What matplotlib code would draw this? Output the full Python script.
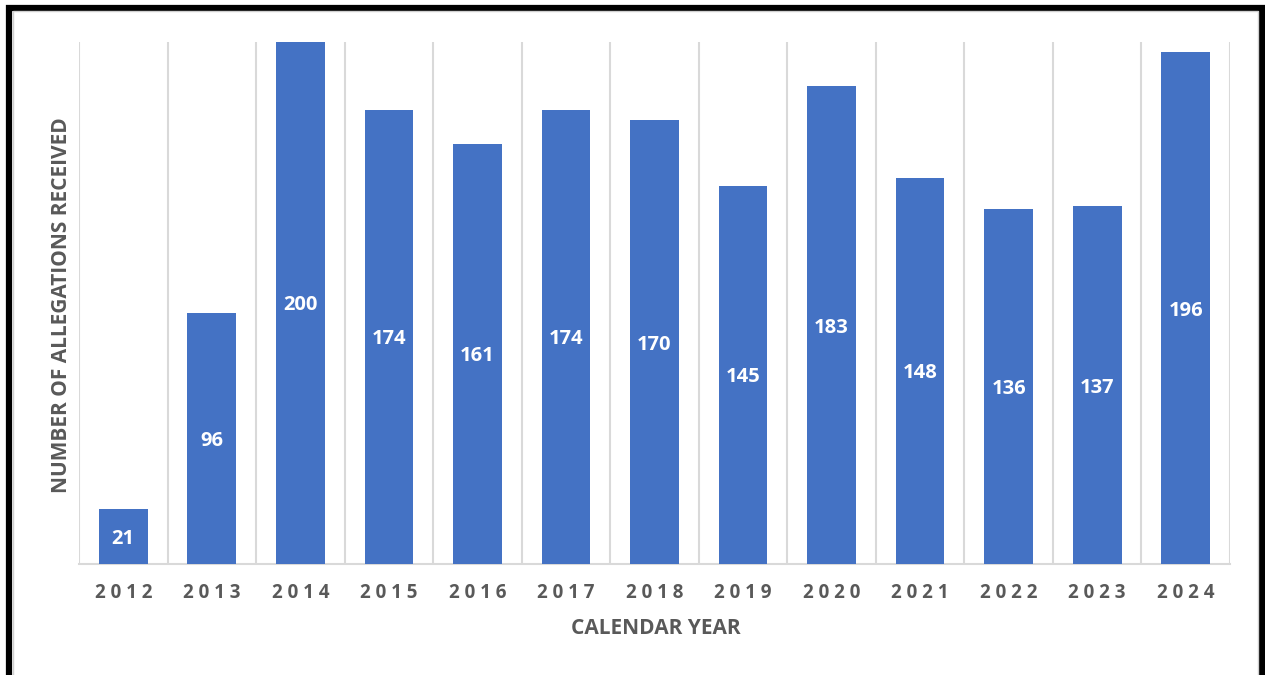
import matplotlib
matplotlib.use("Agg")
import matplotlib.pyplot as plt
from matplotlib.patches import Rectangle
import numpy as np

years = ["2012", "2013", "2014", "2015", "2016", "2017", "2018",
         "2019", "2020", "2021", "2022", "2023", "2024"]
allegations = [21, 96, 200, 174, 161, 174, 170, 145, 183, 148, 136, 137, 196]

plt.rcParams["font.family"] = ["Open Sans", "DejaVu Sans"]

W, H = 1265, 675
fig = plt.figure(figsize=(W / 100, H / 100), dpi=100)
fig.patch.set_facecolor("white")

# === Rámeček kolem grafu ===
fig.patches.append(Rectangle((9 / W, -0.05), 1253 / W, 1.05 - 7.5 / H,
                             transform=fig.transFigure, fill=False,
                             edgecolor="black", linewidth=4.5))
fig.patches.append(Rectangle((13 / W, -0.05), 1245 / W, 1.05 - 11.5 / H,
                             transform=fig.transFigure, fill=False,
                             edgecolor="#d0d0d0", linewidth=1))

ax = fig.add_axes([79 / W, 1 - 564 / H, (1230 - 79) / W, (564 - 42) / H])

x = np.arange(len(years))
bars = ax.bar(x, allegations, width=0.55, color="#4472C4", zorder=3)

for xi, v in zip(x, allegations):
    ax.text(xi, v / 2, str(v), ha="center", va="center_baseline",
            color="white", fontsize=14.5, fontweight="bold", zorder=4)

ax.set_xlim(-0.5, len(years) - 0.5)
ax.set_ylim(0, 200)

# === Svislé mřížky mezi kategoriemi ===
ax.set_xticks(np.arange(-0.5, len(years)), minor=True)
ax.grid(which="minor", axis="x", color="#d9d9d9", linewidth=1.5, zorder=0)
ax.tick_params(which="both", length=0)

ax.set_xticks(x)
ax.set_xticklabels([" ".join(y) for y in years], fontsize=13.5,
                   fontweight="bold", color="#595959")
ax.tick_params(axis="x", pad=14)
ax.set_yticks([])

for side in ["top", "right", "left"]:
    ax.spines[side].set_visible(False)
ax.spines["bottom"].set_color("#d9d9d9")
ax.spines["bottom"].set_linewidth(1.5)

fig.text(656 / W, 1 - 628 / H, "CALENDAR YEAR", ha="center", va="center",
         fontsize=15, fontweight="bold", color="#595959")
fig.text(62 / W, 1 - 305 / H, "NUMBER OF ALLEGATIONS RECEIVED", ha="center",
         va="center", rotation=90, fontsize=15, fontweight="bold",
         color="#595959")

fig.savefig("out.png", dpi=100)
